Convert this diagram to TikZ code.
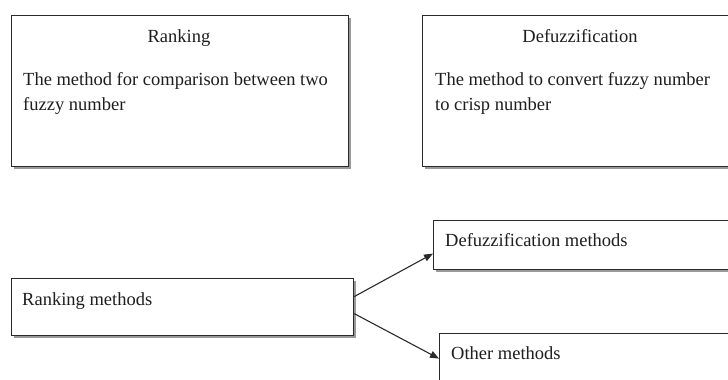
\documentclass[tikz,border=0pt]{standalone}
\usepackage{fontspec}
\setmainfont{Liberation Serif}
\usetikzlibrary{shadows,arrows.meta}
\definecolor{ink}{HTML}{1E1E1E}
\definecolor{edge}{HTML}{2A2A2A}
\tikzset{
  box/.style={draw=edge, line width=1.2pt, fill=white, anchor=north west, inner sep=0pt,
    drop shadow={shadow xshift=2pt, shadow yshift=-2pt, fill=gray!80, opacity=1}},
  txt/.style={text=ink, inner sep=0pt, font=\fontsize{18.5}{25}\selectfont},
  lt/.style={txt, anchor=base west},
  ct/.style={txt, anchor=base},
  conn/.style={draw=edge, line width=1.1pt, -{Triangle[length=9pt,width=7pt]}}
}
\begin{document}
\begin{tikzpicture}[x=1pt,y=-1pt]
\useasboundingbox (0,0) rectangle (728,380);
\clip (0,0) rectangle (728,380);
% top boxes
\node[box, minimum width=337pt, minimum height=151pt] (rk) at (11,15) {};
\node[box, minimum width=330pt, minimum height=151pt] (df) at (422,15) {};
\node[ct] (rkt) at (179,42) {Ranking};
\node[lt] (rk1) at (23,85) {The method for comparison between two};
\node[lt] (rk2) at (23,110) {fuzzy number};
\node[ct] (dft) at (580,42) {Defuzzification};
\node[lt] (df1) at (435,85) {The method to convert fuzzy number};
\node[lt] (df2) at (435,110) {to crisp number};
% bottom boxes
\node[box, minimum width=342pt, minimum height=57pt] (rm) at (11,278) {};
\node[box, minimum width=320pt, minimum height=49pt] (dm) at (433,220) {};
\node[box, minimum width=320pt, minimum height=80pt] (om) at (439,333) {};
\node[lt] (rmt) at (22,305) {Ranking methods};
\node[lt] (dmt) at (445,246) {Defuzzification methods};
\node[lt] (omt) at (451,359) {Other methods};
% connectors
\draw[conn] ([yshift=10.5pt]rm.east) -- ([yshift=-8.5pt]dm.west);
\draw[conn] ([yshift=-6.5pt]rm.east) -- ([yshift=15pt]om.west);
\end{tikzpicture}
\end{document}
